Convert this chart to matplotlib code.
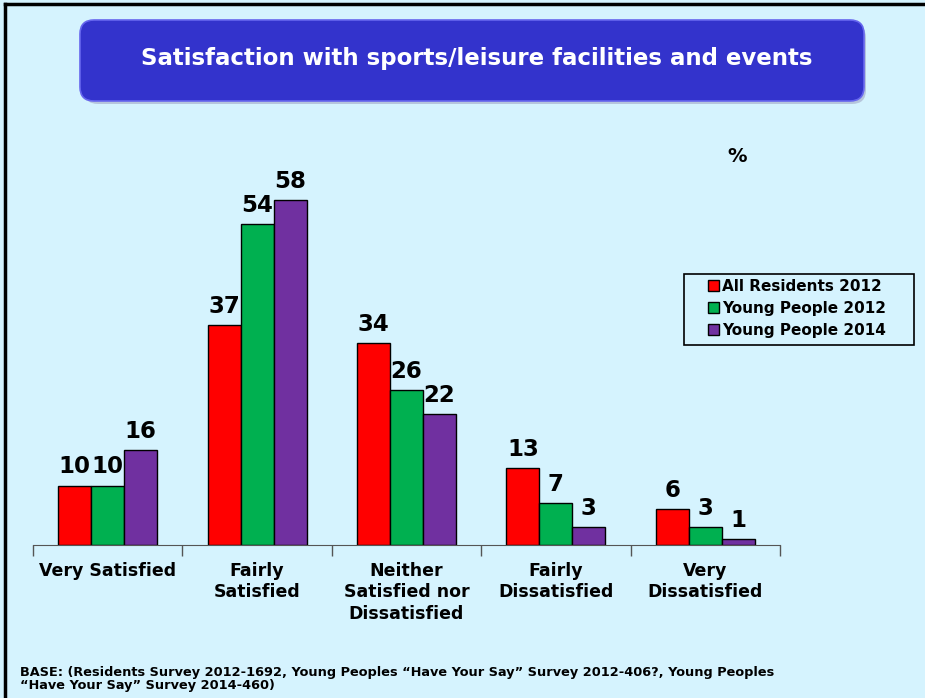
import matplotlib.pyplot as plt
import numpy as np
from matplotlib.patches import FancyBboxPatch, Rectangle
from matplotlib.lines import Line2D

# Data: satisfaction (%) by response category
categories = ["Very Satisfied", "Fairly\nSatisfied", "Neither\nSatisfied nor\nDissatisfied",
              "Fairly\nDissatisfied", "Very\nDissatisfied"]
series_names = ["All Residents 2012", "Young People 2012", "Young People 2014"]
all_residents_2012 = [10, 37, 34, 13, 6]
young_people_2012 = [10, 54, 26, 7, 3]
young_people_2014 = [16, 58, 22, 3, 1]

# Styling
BG = "#D5F3FE"
TITLE_BOX = "#3333CC"
COLORS = ["#FF0000", "#00B050", "#7030A0"]
W, H = 925, 698

fig = plt.figure(figsize=(W / 100, H / 100), dpi=100, facecolor=BG)

# Overlay axes in pixel units for decorations
deco = fig.add_axes([0, 0, 1, 1], zorder=0)
deco.set_xlim(0, W)
deco.set_ylim(H, 0)
deco.axis("off")
deco.set_facecolor("none")

# title box with soft shadow
deco.add_patch(FancyBboxPatch((84, 24), 782, 80, boxstyle="round,pad=0,rounding_size=14",
                              facecolor="#9999BB", edgecolor="none", alpha=0.5))
deco.add_patch(FancyBboxPatch((80, 20), 784, 81, boxstyle="round,pad=0,rounding_size=14",
                              facecolor=TITLE_BOX, edgecolor="#6666EE", linewidth=1.2))
deco.text(477, 58, "Satisfaction with sports/leisure facilities and events",
          ha="center", va="center", fontsize=16.5, fontweight="bold", color="white")

# slide border (top and left)
deco.add_line(Line2D([5, W], [4, 4], color="black", linewidth=2.5))
deco.add_line(Line2D([5, 5], [4, H], color="black", linewidth=2.5))

deco.text(737, 157, "%", ha="center", va="center", fontsize=14, fontweight="bold")

# legend frame
deco.add_patch(Rectangle((684, 274), 230, 71, facecolor=BG, edgecolor="black", linewidth=1.2))

deco.text(20, 666, "BASE: (Residents Survey 2012-1692, Young Peoples \u201cHave Your Say\u201d Survey 2012-406?, Young Peoples\n"
          "\u201cHave Your Say\u201d Survey 2014-460)",
          ha="left", va="top", fontsize=9.3, fontweight="bold", linespacing=0.95)

# Main chart
ax = fig.add_axes([33 / W, 1 - 545 / H, (780 - 33) / W, 416.5 / H], zorder=1)
ax.set_facecolor("none")
x = np.arange(len(categories))
bw = 0.221
series = [all_residents_2012, young_people_2012, young_people_2014]
for i, (vals, col, name) in enumerate(zip(series, COLORS, series_names)):
    pos = x + (i - 1) * bw
    ax.bar(pos, vals, width=bw, color=col, edgecolor="black", linewidth=1.0, label=name)
    for p, v in zip(pos, vals):
        ax.text(p, v + 1.2, str(v), ha="center", va="bottom", fontsize=16.5, fontweight="bold")

ax.set_xlim(-0.5, len(categories) - 0.5)
ax.set_ylim(0, 70)
ax.set_yticks([])
for s in ["top", "right", "left"]:
    ax.spines[s].set_visible(False)
ax.spines["bottom"].set_color("#555555")
ax.set_xticks(x)
ax.set_xticklabels(categories, fontsize=12.5, fontweight="bold", linespacing=1.25, va="top")
ax.tick_params(axis="x", which="major", length=0, pad=12)
ax.set_xticks(np.arange(-0.5, len(categories)), minor=True)
ax.tick_params(axis="x", which="minor", length=8, color="#555555", width=1)

leg = fig.legend(loc="upper left", bbox_to_anchor=(705 / W, 1 - 276 / H),
                 frameon=False, prop={"weight": "bold", "size": 11},
                 handlelength=0.7, handleheight=0.7,
                 handletextpad=0.2, labelspacing=0.45, borderpad=0.2, borderaxespad=0)

plt.savefig("out.png", dpi=100, facecolor=BG)
